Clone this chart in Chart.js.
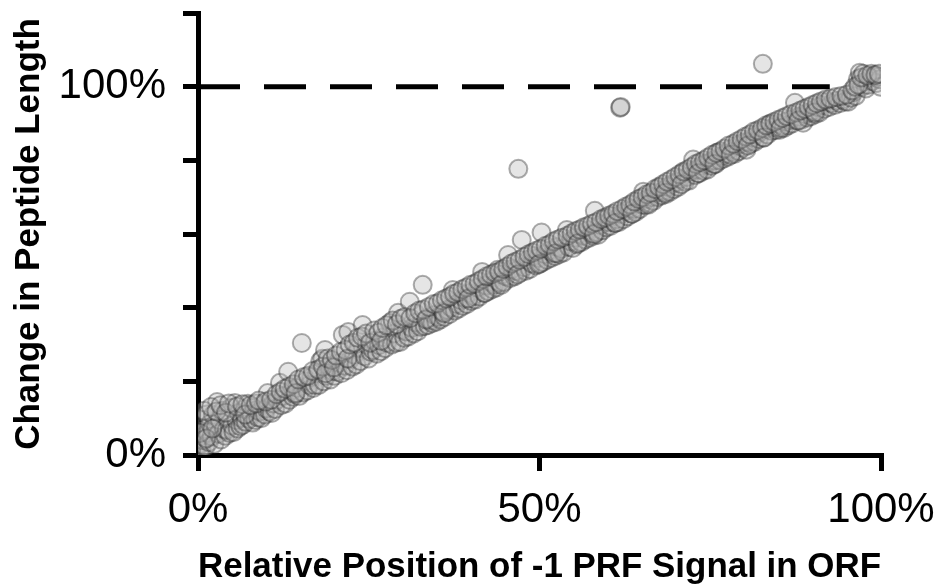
<!DOCTYPE html>
<html>
<head>
<meta charset="utf-8">
<title>-1 PRF signal position vs peptide length</title>
<script src="https://cdn.jsdelivr.net/npm/chart.js@4.4.1/dist/chart.umd.min.js"></script>
<style>
  html, body { margin: 0; padding: 0; background: #fff; }
  #prfChart { display: block; }
</style>
</head>
<body>
<canvas id="prfChart" width="941" height="588"></canvas>
<script>
// relative position of the -1 PRF signal within the ORF (0..1)
const relPosition = [
  0.002, 0.004, 0.005, 0.006, 0.007, 0.008, 0.010, 0.011, 0.013, 0.014,
  0.016, 0.018, 0.020, 0.022, 0.024, 0.026, 0.028, 0.030, 0.032, 0.034,
  0.036, 0.038, 0.040, 0.042, 0.044, 0.046, 0.048, 0.050, 0.052, 0.054,
  0.056, 0.058, 0.060, 0.062, 0.064, 0.066, 0.068, 0.070, 0.073, 0.075,
  0.078, 0.080, 0.082, 0.084, 0.086, 0.088, 0.090, 0.093, 0.096, 0.098,
  0.100, 0.102, 0.105, 0.108, 0.110, 0.113, 0.116, 0.120, 0.122, 0.125,
  0.128, 0.132, 0.134, 0.137, 0.139, 0.142, 0.145, 0.148, 0.152, 0.154,
  0.157, 0.160, 0.163, 0.166, 0.169, 0.171, 0.174, 0.177, 0.179, 0.182,
  0.184, 0.186, 0.188, 0.191, 0.194, 0.197, 0.200, 0.204, 0.207, 0.210,
  0.212, 0.215, 0.218, 0.220, 0.223, 0.226, 0.229, 0.232, 0.235, 0.238,
  0.241, 0.244, 0.247, 0.250, 0.253, 0.256, 0.259, 0.262, 0.265, 0.268,
  0.271, 0.274, 0.277, 0.281, 0.284, 0.287, 0.290, 0.293, 0.296, 0.299,
  0.302, 0.305, 0.308, 0.310, 0.313, 0.316, 0.319, 0.322, 0.326, 0.329,
  0.332, 0.335, 0.337, 0.340, 0.343, 0.346, 0.349, 0.352, 0.355, 0.358,
  0.361, 0.365, 0.368, 0.371, 0.373, 0.376, 0.379, 0.382, 0.385, 0.388,
  0.391, 0.394, 0.397, 0.400, 0.403, 0.406, 0.409, 0.412, 0.416, 0.419,
  0.422, 0.425, 0.428, 0.431, 0.434, 0.437, 0.439, 0.442, 0.445, 0.448,
  0.451, 0.454, 0.457, 0.460, 0.463, 0.466, 0.469, 0.472, 0.474, 0.477,
  0.480, 0.483, 0.486, 0.489, 0.492, 0.495, 0.498, 0.501, 0.503, 0.505,
  0.508, 0.511, 0.514, 0.517, 0.520, 0.523, 0.526, 0.529, 0.532, 0.535,
  0.540, 0.543, 0.546, 0.549, 0.552, 0.555, 0.558, 0.561, 0.564, 0.567,
  0.570, 0.573, 0.576, 0.579, 0.581, 0.584, 0.586, 0.589, 0.592, 0.595,
  0.598, 0.601, 0.604, 0.607, 0.610, 0.613, 0.616, 0.618, 0.619, 0.620,
  0.623, 0.626, 0.629, 0.632, 0.635, 0.638, 0.641, 0.644, 0.647, 0.650,
  0.652, 0.655, 0.658, 0.661, 0.664, 0.667, 0.670, 0.673, 0.676, 0.679,
  0.682, 0.685, 0.688, 0.691, 0.694, 0.697, 0.700, 0.703, 0.706, 0.710,
  0.713, 0.716, 0.719, 0.722, 0.725, 0.728, 0.731, 0.734, 0.737, 0.740,
  0.743, 0.746, 0.749, 0.752, 0.755, 0.758, 0.761, 0.764, 0.767, 0.770,
  0.773, 0.776, 0.779, 0.783, 0.786, 0.789, 0.792, 0.795, 0.798, 0.801,
  0.803, 0.806, 0.809, 0.812, 0.815, 0.818, 0.821, 0.824, 0.827, 0.828,
  0.831, 0.834, 0.837, 0.840, 0.843, 0.846, 0.849, 0.852, 0.855, 0.858,
  0.861, 0.864, 0.867, 0.870, 0.874, 0.877, 0.880, 0.883, 0.886, 0.889,
  0.892, 0.895, 0.898, 0.901, 0.904, 0.907, 0.910, 0.914, 0.917, 0.921,
  0.924, 0.928, 0.932, 0.936, 0.940, 0.944, 0.948, 0.952, 0.956, 0.960,
  0.963, 0.966, 0.969, 0.972, 0.975, 0.978, 0.981, 0.984, 0.987, 0.990,
  0.993, 0.996, 0.998, 0.999,
  // upper part of the band
  0.003, 0.009, 0.012, 0.019, 0.021, 0.027, 0.033, 0.041, 0.045, 0.057,
  0.065, 0.069, 0.077, 0.085, 0.089, 0.099, 0.107, 0.115, 0.121, 0.127,
  0.133, 0.140, 0.143, 0.147, 0.155, 0.161, 0.168, 0.176, 0.183, 0.187,
  0.190, 0.196, 0.199, 0.202, 0.209, 0.216, 0.219, 0.222, 0.228, 0.234,
  0.240, 0.246, 0.252, 0.258, 0.264, 0.268, 0.270, 0.276, 0.285, 0.291,
  0.297, 0.303, 0.311, 0.318, 0.324, 0.330, 0.334, 0.338, 0.345, 0.351,
  0.357, 0.360, 0.363, 0.369, 0.375, 0.381, 0.387, 0.393, 0.396, 0.399,
  0.405, 0.411, 0.417, 0.420, 0.423, 0.429, 0.435, 0.441, 0.444, 0.447,
  0.453, 0.459, 0.465, 0.468, 0.471, 0.478, 0.484, 0.490, 0.496, 0.499,
  0.502, 0.509, 0.515, 0.521, 0.524, 0.527, 0.533, 0.541, 0.547, 0.553,
  0.556, 0.559, 0.565, 0.571, 0.577, 0.580, 0.583, 0.590, 0.596, 0.602,
  0.608, 0.611, 0.614, 0.621, 0.627, 0.633, 0.636, 0.639, 0.645, 0.651,
  0.657, 0.660, 0.663, 0.669, 0.675, 0.681, 0.684, 0.687, 0.693, 0.699,
  0.705, 0.708, 0.711, 0.717, 0.723, 0.729, 0.732, 0.735, 0.741, 0.747,
  0.753, 0.756, 0.759, 0.765, 0.771, 0.777, 0.780, 0.784, 0.790, 0.796,
  0.802, 0.805, 0.808, 0.814, 0.820, 0.826, 0.829, 0.832, 0.838, 0.844,
  0.850, 0.853, 0.856, 0.862, 0.868, 0.876, 0.879, 0.882, 0.888, 0.894,
  0.900, 0.903, 0.906, 0.912, 0.919, 0.926, 0.934, 0.942, 0.950, 0.958,
  0.962, 0.967, 0.971, 0.974, 0.980, 0.986, 0.992, 0.997
];

// change in peptide length after the frameshift (1 = 100%)
const lengthChange = [
  0.010, 0.030, 0.018, 0.052, 0.095, 0.040, 0.070, 0.022, 0.110, 0.060,
  0.035, 0.085, 0.050, 0.109, 0.030, 0.075, 0.144, 0.058, 0.095, 0.042,
  0.120, 0.070, 0.052, 0.068, 0.100, 0.060, 0.128, 0.080, 0.062, 0.141,
  0.095, 0.072, 0.115, 0.078, 0.100, 0.082, 0.125, 0.090, 0.139, 0.098,
  0.110, 0.088, 0.128, 0.095, 0.122, 0.102, 0.118, 0.100, 0.140, 0.110,
  0.126, 0.168, 0.118, 0.114, 0.140, 0.125, 0.150, 0.196, 0.135, 0.160,
  0.140, 0.226, 0.150, 0.175, 0.158, 0.165, 0.182, 0.160, 0.304, 0.170,
  0.200, 0.175, 0.190, 0.212, 0.182, 0.190, 0.222, 0.190, 0.255, 0.261,
  0.200, 0.285, 0.215, 0.240, 0.205, 0.228, 0.215, 0.226, 0.250, 0.222,
  0.326, 0.242, 0.230, 0.334, 0.260, 0.240, 0.272, 0.246, 0.290, 0.255,
  0.353, 0.268, 0.300, 0.262, 0.280, 0.285, 0.310, 0.275, 0.298, 0.282,
  0.320, 0.290, 0.305, 0.359, 0.300, 0.330, 0.305, 0.386, 0.307, 0.340,
  0.318, 0.335, 0.322, 0.416, 0.345, 0.330, 0.360, 0.336, 0.348, 0.462,
  0.350, 0.372, 0.353, 0.365, 0.358, 0.380, 0.362, 0.375, 0.368, 0.390,
  0.375, 0.394, 0.382, 0.400, 0.448, 0.392, 0.410, 0.398, 0.420, 0.405,
  0.425, 0.410, 0.440, 0.418, 0.432, 0.422, 0.455, 0.430, 0.497, 0.440,
  0.460, 0.445, 0.470, 0.450, 0.462, 0.455, 0.503, 0.468, 0.490, 0.470,
  0.485, 0.543, 0.480, 0.505, 0.485, 0.500, 0.777, 0.495, 0.584, 0.510,
  0.500, 0.530, 0.505, 0.520, 0.540, 0.515, 0.535, 0.520, 0.604, 0.524,
  0.545, 0.530, 0.555, 0.535, 0.548, 0.540, 0.565, 0.545, 0.560, 0.550,
  0.611, 0.565, 0.580, 0.562, 0.590, 0.572, 0.600, 0.578, 0.595, 0.585,
  0.610, 0.590, 0.602, 0.595, 0.663, 0.605, 0.598, 0.625, 0.610, 0.640,
  0.618, 0.632, 0.622, 0.648, 0.630, 0.640, 0.632, 0.943, 0.945, 0.655,
  0.640, 0.662, 0.648, 0.670, 0.655, 0.668, 0.660, 0.688, 0.668, 0.680,
  0.715, 0.678, 0.695, 0.685, 0.700, 0.690, 0.712, 0.700, 0.726, 0.705,
  0.718, 0.708, 0.728, 0.715, 0.735, 0.722, 0.740, 0.728, 0.750, 0.766,
  0.742, 0.755, 0.745, 0.770, 0.802, 0.760, 0.775, 0.765, 0.785, 0.772,
  0.790, 0.775, 0.795, 0.785, 0.800, 0.790, 0.821, 0.800, 0.812, 0.805,
  0.818, 0.810, 0.830, 0.823, 0.818, 0.840, 0.825, 0.845, 0.835, 0.850,
  0.829, 0.850, 0.845, 0.862, 0.850, 0.870, 0.858, 0.878, 1.062, 0.862,
  0.885, 0.870, 0.897, 0.880, 0.890, 0.882, 0.900, 0.883, 0.895, 0.888,
  0.905, 0.895, 0.910, 0.900, 0.956, 0.908, 0.918, 0.910, 0.902, 0.925,
  0.916, 0.930, 0.920, 0.935, 0.925, 0.945, 0.930, 0.950, 0.940, 0.959,
  0.945, 0.955, 0.950, 0.962, 0.955, 0.965, 0.960, 0.959, 0.970, 0.985,
  0.975, 1.020, 1.038, 1.000, 1.012, 0.995, 1.005, 1.025, 1.015, 1.030,
  1.010, 1.027, 1.020, 1.000,
  // upper part of the band
  0.060, 0.120, 0.045, 0.130, 0.072, 0.118, 0.135, 0.115, 0.140, 0.132,
  0.138, 0.110, 0.135, 0.140, 0.148, 0.145, 0.150, 0.165, 0.172, 0.180,
  0.185, 0.192, 0.168, 0.205, 0.212, 0.215, 0.228, 0.232, 0.240, 0.222,
  0.262, 0.258, 0.238, 0.270, 0.280, 0.285, 0.262, 0.300, 0.305, 0.318,
  0.322, 0.330, 0.305, 0.338, 0.332, 0.310, 0.345, 0.352, 0.365, 0.355,
  0.370, 0.375, 0.372, 0.385, 0.392, 0.395, 0.368, 0.402, 0.410, 0.412,
  0.420, 0.385, 0.425, 0.430, 0.438, 0.442, 0.450, 0.455, 0.425, 0.462,
  0.465, 0.472, 0.478, 0.440, 0.485, 0.490, 0.495, 0.498, 0.462, 0.505,
  0.512, 0.520, 0.525, 0.490, 0.530, 0.538, 0.545, 0.550, 0.555, 0.518,
  0.560, 0.568, 0.572, 0.580, 0.548, 0.585, 0.590, 0.595, 0.602, 0.608,
  0.575, 0.612, 0.618, 0.622, 0.628, 0.600, 0.632, 0.640, 0.645, 0.650,
  0.655, 0.630, 0.662, 0.668, 0.675, 0.680, 0.655, 0.688, 0.695, 0.700,
  0.708, 0.680, 0.712, 0.722, 0.728, 0.735, 0.712, 0.742, 0.748, 0.755,
  0.762, 0.735, 0.770, 0.775, 0.782, 0.790, 0.765, 0.795, 0.800, 0.808,
  0.815, 0.790, 0.820, 0.825, 0.832, 0.840, 0.815, 0.845, 0.852, 0.858,
  0.865, 0.840, 0.870, 0.878, 0.882, 0.888, 0.862, 0.895, 0.900, 0.905,
  0.910, 0.888, 0.915, 0.920, 0.925, 0.930, 0.908, 0.935, 0.940, 0.945,
  0.950, 0.930, 0.955, 0.960, 0.965, 0.968, 0.972, 0.975, 0.978, 0.990,
  1.000, 1.005, 1.025, 1.035, 1.030, 1.035, 1.032, 1.035
];

// axis ticks
const xTicks = [0, 0.5, 1];
const xTickLabels = ["0%", "50%", "100%"];
const yTicks = [0, 0.2, 0.4, 0.6, 0.8, 1.0, 1.2];
const yTickLabels = ["0%", "", "", "", "", "100%", ""];

// dashed 100% reference line
const refLevel = 1;
const refLineX = [0, 0.925];

const points = relPosition.map((x, i) => ({ x: x, y: lengthChange[i] }));
const refLine = refLineX.map(x => ({ x: x, y: refLevel }));

const fontFamily = "'Liberation Sans', Arial, Helvetica, sans-serif";

const ctx = document.getElementById("prfChart").getContext("2d");
new Chart(ctx, {
  type: "scatter",
  data: {
    datasets: [
      {
        type: "line",
        data: refLine,
        borderColor: "#000",
        borderWidth: 5,
        borderDash: [42, 24],
        pointRadius: 0,
        fill: false,
        order: 0
      },
      {
        data: points,
        backgroundColor: "rgba(180, 180, 180, 0.35)",
        borderColor: "rgba(40, 40, 40, 0.38)",
        borderWidth: 2,
        pointRadius: 9,
        order: 1
      }
    ]
  },
  options: {
    responsive: false,
    animation: false,
    events: [],
    layout: { padding: { top: 13, right: 60, bottom: 0, left: 0 } },
    plugins: {
      legend: { display: false },
      tooltip: { enabled: false }
    },
    scales: {
      x: {
        type: "linear",
        min: 0,
        max: 1,
        afterBuildTicks: scale => { scale.ticks = xTicks.map(v => ({ value: v })); },
        afterFit: scale => {
          scale.height = 133;
          scale.paddingLeft = 0;
          scale.paddingRight = 0;
        },
        ticks: {
          color: "#000",
          padding: 14,
          maxRotation: 0,
          font: { family: fontFamily, size: 42 },
          callback: (v) => xTickLabels[xTicks.indexOf(v)]
        },
        grid: {
          drawOnChartArea: false,
          drawTicks: true,
          tickLength: 16,
          color: "#000",
          lineWidth: 5
        },
        border: { display: true, color: "#000", width: 5 },
        title: {
          display: true,
          text: "Relative Position of -1 PRF Signal in ORF",
          color: "#000",
          padding: 0,
          font: { family: fontFamily, size: 35, weight: "bold" }
        }
      },
      y: {
        type: "linear",
        min: 0,
        max: 1.2,
        afterBuildTicks: scale => { scale.ticks = yTicks.map(v => ({ value: v })); },
        afterFit: scale => {
          scale.width = 198;
          scale.paddingTop = 0;
          scale.paddingBottom = 0;
        },
        ticks: {
          color: "#000",
          padding: 17,
          font: { family: fontFamily, size: 42 },
          callback: (v) => yTickLabels[yTicks.indexOf(v)]
        },
        grid: {
          drawOnChartArea: false,
          drawTicks: true,
          tickLength: 15,
          color: "#000",
          lineWidth: 5
        },
        border: { display: true, color: "#000", width: 5 },
        title: {
          display: true,
          text: "Change in Peptide Length",
          color: "#000",
          padding: { top: 8, bottom: 0 },
          font: { family: fontFamily, size: 35, weight: "bold" }
        }
      }
    }
  }
});
</script>
</body>
</html>
